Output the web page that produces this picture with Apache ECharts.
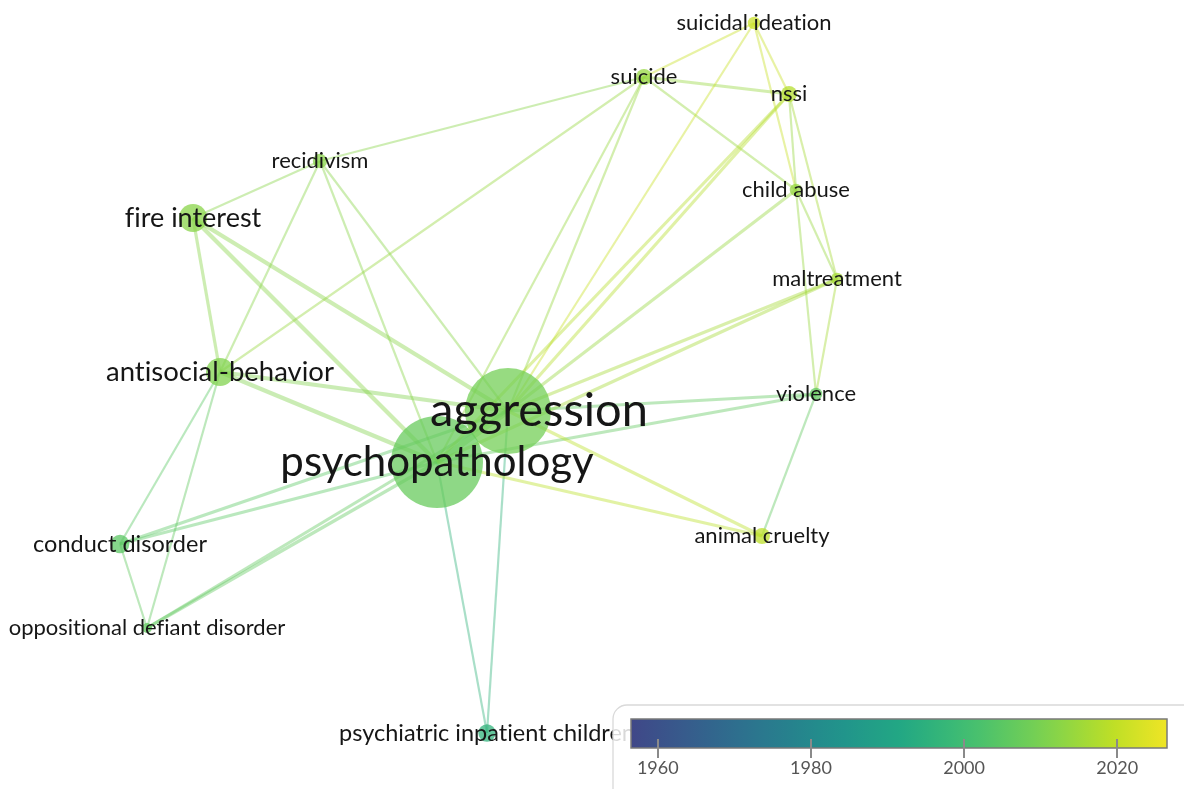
<!DOCTYPE html>
<html>
<head>
<meta charset="utf-8">
<script src="https://cdn.jsdelivr.net/npm/echarts@6/dist/echarts.min.js"></script>
<style>
  html, body { margin: 0; padding: 0; background: #ffffff; }
  #chart { width: 1184px; height: 789px; }
</style>
</head>
<body>
<div id="chart"></div>
<script>
// ---- Keyword co-occurrence network (overlay by average publication year) ----
const terms = [
  'aggression', 'psychopathology', 'fire interest', 'antisocial-behavior',
  'recidivism', 'suicide', 'suicidal ideation', 'nssi', 'child abuse',
  'maltreatment', 'violence', 'animal cruelty', 'conduct disorder',
  'oppositional defiant disorder', 'psychiatric inpatient children'
];
// map coordinates of each term
const mapX = [508, 437, 193, 220, 320, 644, 754, 789, 796, 837, 816, 762, 120, 147, 487];
const mapY = [411, 462, 218, 372, 161, 77, 23, 94, 190, 279, 394, 536, 544, 628, 733];
// occurrences of each term
const occurrences = [187, 215, 16, 16, 3, 4, 2, 4, 2, 2, 2, 4, 6, 1, 5];
// average publication year of each term
const avgPubYear = [2009, 2007, 2012, 2011, 2012, 2014, 2021, 2018, 2014, 2016, 2006, 2019, 2005, 2006, 1996];

// co-occurrence links
const linkSource = [
  'aggression', 'fire interest', 'fire interest', 'antisocial-behavior', 'antisocial-behavior',
  'fire interest', 'fire interest', 'recidivism', 'recidivism', 'recidivism', 'recidivism',
  'antisocial-behavior', 'antisocial-behavior', 'antisocial-behavior',
  'conduct disorder', 'conduct disorder', 'conduct disorder',
  'oppositional defiant disorder', 'oppositional defiant disorder',
  'psychiatric inpatient children', 'psychiatric inpatient children',
  'suicide', 'suicide', 'suicide', 'suicide', 'suicide',
  'suicidal ideation', 'suicidal ideation', 'suicidal ideation',
  'nssi', 'nssi', 'nssi', 'nssi',
  'child abuse', 'child abuse', 'child abuse',
  'maltreatment', 'maltreatment', 'maltreatment',
  'violence', 'violence', 'violence',
  'animal cruelty', 'animal cruelty'
];
const linkTarget = [
  'psychopathology', 'aggression', 'psychopathology', 'aggression', 'psychopathology',
  'antisocial-behavior', 'recidivism', 'antisocial-behavior', 'aggression', 'psychopathology', 'suicide',
  'suicide', 'conduct disorder', 'oppositional defiant disorder',
  'aggression', 'psychopathology', 'oppositional defiant disorder',
  'aggression', 'psychopathology',
  'aggression', 'psychopathology',
  'aggression', 'psychopathology', 'suicidal ideation', 'nssi', 'child abuse',
  'aggression', 'nssi', 'child abuse',
  'aggression', 'psychopathology', 'child abuse', 'maltreatment',
  'aggression', 'maltreatment', 'violence',
  'aggression', 'psychopathology', 'violence',
  'aggression', 'psychopathology', 'animal cruelty',
  'aggression', 'psychopathology'
];
const linkStrength = [
  5, 3, 3, 3, 3,
  2, 1, 1, 1, 1, 1,
  1, 1, 1,
  2, 2, 1,
  2, 2,
  1, 1,
  1, 1, 1, 2, 1,
  1, 1, 1,
  2, 2, 1, 1,
  2, 1, 1,
  2, 2, 1,
  2, 2, 1,
  2, 2
];

// colour scale
const yearRange = [1956.5, 2026.5];
const yearTicks = [1960, 1980, 2000, 2020];

// ---- styling ----
const FONT = 'Lato, "Noto Sans", sans-serif';
const LABEL_SIZE = {
  'aggression': 47, 'psychopathology': 42, 'fire interest': 27, 'antisocial-behavior': 27.5,
  'conduct disorder': 23.5, 'psychiatric inpatient children': 23.5
};
const LABEL_OFFSET = { 'aggression': [31, 0] };

const VIRIDIS = [
  [68, 1, 84], [72, 36, 117], [65, 68, 135], [53, 95, 141], [42, 120, 142],
  [33, 145, 140], [34, 168, 132], [68, 191, 112], [122, 209, 81], [189, 223, 38], [253, 231, 37]
];
function viridisRGB(t) {
  t = Math.max(0, Math.min(1, t));
  const p = t * (VIRIDIS.length - 1);
  const i = Math.min(VIRIDIS.length - 2, Math.floor(p));
  const f = p - i;
  const a = VIRIDIS[i], b = VIRIDIS[i + 1];
  return a.map((v, k) => Math.round(v + (b[k] - v) * f));
}
// year -> colour (the scale uses the upper part of viridis)
function yearRGB(y) {
  const u = (y - yearRange[0]) / (yearRange[1] - yearRange[0]);
  return viridisRGB(0.21 + u * 0.77);
}
function yearColor(y, alpha) {
  const c = yearRGB(y);
  return alpha == null ? 'rgb(' + c.join(',') + ')' : 'rgba(' + c.join(',') + ',' + alpha + ')';
}

const yearOf = {}, occOf = {};
terms.forEach((t, i) => { yearOf[t] = avgPubYear[i]; occOf[t] = occurrences[i]; });

const nodes = terms.map((name, i) => ({
  name: name,
  value: [mapX[i], mapY[i]],
  symbolSize: 4 + 6 * Math.sqrt(occurrences[i]),
  itemStyle: { color: yearColor(avgPubYear[i], 0.74) },
  label: {
    fontSize: LABEL_SIZE[name] || 22,
    offset: LABEL_OFFSET[name] || [0, 0]
  }
}));

// a link takes the colour of its less frequent end
const links = linkSource.map((s, k) => {
  const t = linkTarget[k];
  const minor = occOf[s] <= occOf[t] ? s : t;
  return {
    source: s,
    target: t,
    lineStyle: {
      width: 1.2 + linkStrength[k],
      color: yearColor(yearOf[minor], 0.42),
      opacity: 1
    }
  };
});

const gradientStops = [];
for (let k = 0; k <= 20; k++) {
  const y = yearRange[0] + (yearRange[1] - yearRange[0]) * k / 20;
  gradientStops.push({ offset: k / 20, color: yearColor(y) });
}

const chart = echarts.init(document.getElementById('chart'), null, { renderer: 'canvas' });
chart.setOption({
  animation: false,
  backgroundColor: '#ffffff',
  grid: [
    { left: 0, top: 0, right: 0, bottom: 0 },
    { left: 631, top: 719, width: 536, height: 29 }
  ],
  xAxis: [
    { gridIndex: 0, type: 'value', min: 0, max: 1184, show: false },
    {
      gridIndex: 1, type: 'value', min: yearRange[0], max: yearRange[1], z: 12,
      offset: -9,
      axisLine: { show: false },
      splitLine: { show: false },
      axisTick: { show: true, customValues: yearTicks, length: 19, lineStyle: { color: '#8a8a8a', width: 2 } },
      axisLabel: {
        customValues: yearTicks, fontSize: 18, color: '#555555', fontFamily: FONT, margin: 20,
        formatter: function (v) { return String(v); }
      }
    }
  ],
  yAxis: [
    { gridIndex: 0, type: 'value', min: 0, max: 789, inverse: true, show: false },
    { gridIndex: 1, type: 'value', min: 0, max: 1, show: false }
  ],
  graphic: [{
    type: 'rect', z: 6,
    shape: { x: 613, y: 705, width: 620, height: 120, r: 14 },
    style: { fill: 'rgba(255,255,255,0.84)', stroke: '#d9d9d9', lineWidth: 1.3 }
  }],
  series: [
    {
      type: 'graph',
      layout: 'none',
      coordinateSystem: 'cartesian2d',
      xAxisIndex: 0, yAxisIndex: 0,
      z: 2,
      silent: true,
      data: nodes,
      links: links,
      symbol: 'circle',
      label: {
        show: true, position: 'inside', color: '#161616',
        fontFamily: FONT, fontWeight: 'normal',
        // keep letter pairs as separate glyphs (no ligatures)
        formatter: function (p) { return p.name.replace(/([ft])(?=[filt])/g, '$1\u200C'); }
      },
      lineStyle: { curveness: 0, opacity: 1 },
      emphasis: { disabled: true }
    },
    {
      type: 'custom',
      xAxisIndex: 1, yAxisIndex: 1,
      z: 10,
      silent: true,
      data: [[yearRange[0], yearRange[1]]],
      renderItem: function (params, api) {
        const p0 = api.coord([api.value(0), 1]);
        const p1 = api.coord([api.value(1), 0]);
        return {
          type: 'rect',
          shape: { x: p0[0], y: p0[1], width: p1[0] - p0[0], height: p1[1] - p0[1] },
          style: {
            fill: new echarts.graphic.LinearGradient(0, 0, 1, 0, gradientStops),
            stroke: '#7a7a7a', lineWidth: 1.5
          }
        };
      }
    }
  ]
});
</script>
</body>
</html>
